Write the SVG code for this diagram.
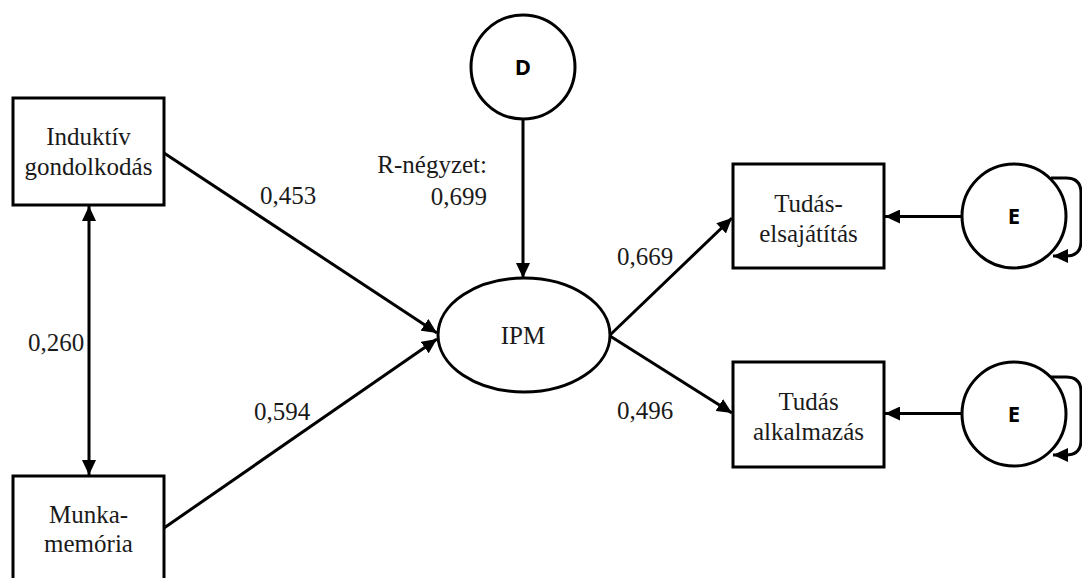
<svg xmlns="http://www.w3.org/2000/svg" width="1082" height="578" viewBox="0 0 1082 578">
<style>
.box{fill:#fff;stroke:#000;stroke-width:3}
.circ{fill:#fff;stroke:#000;stroke-width:3}
.t{font-family:'Liberation Serif','DejaVu Serif',serif;font-size:25px;fill:#1a1a1a}
.c{text-anchor:middle}
.e{text-anchor:end}
.lbl{font-family:'Open Sans','Roboto',sans-serif;font-weight:bold;font-size:22px;text-anchor:middle;fill:#000}
.ln{fill:none;stroke:#000;stroke-width:3}
</style>
<defs>
<marker id="ah" viewBox="0 0 15 14" refX="15" refY="7" markerWidth="15" markerHeight="14" markerUnits="userSpaceOnUse" orient="auto-start-reverse">
<path d="M0,0 L15,7 L0,14 z" fill="#000"/>
</marker>
</defs>
<rect width="1082" height="578" fill="#fff"/>
<g id="connectors">
<line class="ln" x1="89" y1="206" x2="89" y2="475" marker-start="url(#ah)" marker-end="url(#ah)"/>
<line class="ln" x1="164" y1="153" x2="437" y2="333" marker-end="url(#ah)"/>
<line class="ln" x1="164" y1="528" x2="437" y2="339" marker-end="url(#ah)"/>
<line class="ln" x1="523" y1="119" x2="523" y2="278" marker-end="url(#ah)"/>
<line class="ln" x1="610" y1="335" x2="732" y2="218" marker-end="url(#ah)"/>
<line class="ln" x1="610" y1="336" x2="732" y2="413" marker-end="url(#ah)"/>
<line class="ln" x1="962" y1="216.5" x2="885" y2="216.5" marker-end="url(#ah)"/>
<line class="ln" x1="962" y1="413.5" x2="885" y2="413.5" marker-end="url(#ah)"/>
<path class="ln" d="M1051,178 H1066 Q1081,178 1081,193 V241 Q1081,256 1066,256 H1053" marker-end="url(#ah)"/>
<path class="ln" d="M1051,377 H1066 Q1081,377 1081,392 V440 Q1081,455 1066,455 H1053" marker-end="url(#ah)"/>
</g>
<g id="labels">
<text class="t" x="28" y="351">0,260</text>
<text class="t" x="260" y="204">0,453</text>
<text class="t" x="254" y="420">0,594</text>
<text class="t e" x="487" y="173">R-négyzet:</text>
<text class="t e" x="487" y="205">0,699</text>
<text class="t" x="617" y="265">0,669</text>
<text class="t" x="617" y="419">0,496</text>
</g>
<g id="induktiv">
<rect class="box" x="13" y="98" width="151" height="107"/>
<text class="t c" x="88.5" y="145">Induktív</text>
<text class="t c" x="88.5" y="175">gondolkodás</text>
</g>
<g id="munkamemoria">
<rect class="box" x="13" y="476" width="151" height="130"/>
<text class="t c" x="88.5" y="523">Munka-</text>
<text class="t c" x="88.5" y="552">memória</text>
</g>
<g id="D">
<circle class="circ" cx="523" cy="67" r="52"/>
<text class="lbl" x="523" y="75">D</text>
</g>
<g id="IPM">
<ellipse class="circ" cx="524" cy="335" rx="86" ry="57"/>
<text class="t c" x="523" y="344">IPM</text>
</g>
<g id="tudas-elsajatitas">
<rect class="box" x="733" y="164" width="151" height="104"/>
<text class="t c" x="808.5" y="212">Tudás-</text>
<text class="t c" x="808.5" y="242">elsajátítás</text>
</g>
<g id="tudas-alkalmazas">
<rect class="box" x="733" y="362" width="151" height="105"/>
<text class="t c" x="808.5" y="410">Tudás</text>
<text class="t c" x="808.5" y="440">alkalmazás</text>
</g>
<g id="E1">
<circle class="circ" cx="1014" cy="216" r="52"/>
<text class="lbl" x="1014" y="224">E</text>
</g>
<g id="E2">
<circle class="circ" cx="1014" cy="414" r="52"/>
<text class="lbl" x="1014" y="422">E</text>
</g>
</svg>
